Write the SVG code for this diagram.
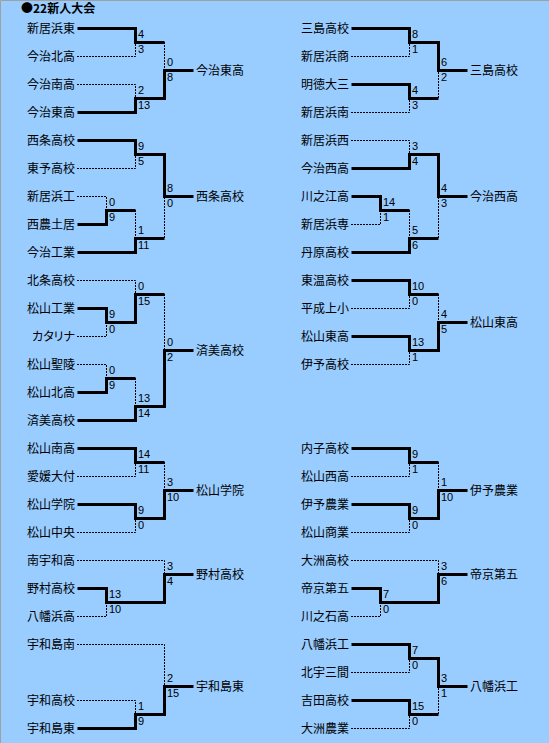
<svg xmlns="http://www.w3.org/2000/svg" width="549" height="743" viewBox="0 0 549 743">
<style>
.bg{fill:#99CCFF}
.w{fill:none;stroke:#000;stroke-width:3;stroke-linejoin:miter;stroke-linecap:butt}
.l{fill:none;stroke:#000;stroke-width:1;stroke-dasharray:2 1}
.t{font-family:"Noto Sans CJK JP","Noto Sans CJK SC",sans-serif;font-size:12px;fill:#000}
.e{text-anchor:end}
.s{font-family:"Liberation Sans",Arial,sans-serif;font-size:11px;fill:#000}
.h{font-family:"Noto Sans CJK JP",sans-serif;font-size:12px;font-weight:bold;fill:#000}
</style>
<rect class="bg" x="0" y="0" width="549" height="743"/>
<path d="M0.5 743V0.5H549" fill="none" stroke="#A0A0A0" stroke-width="1"/>
<text class="h" x="21" y="12.5">●22新人大会</text>

<g id="connectors">
<g transform="translate(0.5 0.5)">
<!-- L1 -->
<path class="w" d="M77 28H135V42H164"/>
<path class="w" d="M77 112H135V98H164V70H193"/>
<!-- L2 -->
<path class="w" d="M77 140H135V154H164V196H193"/>
<path class="w" d="M77 224H106V210H135"/>
<path class="w" d="M77 252H135V238H164"/>
<!-- L3 -->
<path class="w" d="M77 308H106V322H135V294H164"/>
<path class="w" d="M77 392H106V378H135"/>
<path class="w" d="M77 420H135V406H164V350H193"/>
<!-- L4 -->
<path class="w" d="M77 448H135V462H164"/>
<path class="w" d="M77 504H135V518H164V490H193"/>
<!-- L5 -->
<path class="w" d="M77 588H106V602H164V574H193"/>
<!-- L6 -->
<path class="w" d="M77 728H135V714H164V686H193"/>
<!-- R1 -->
<path class="w" d="M351 28H409V42H438V70H467"/>
<path class="w" d="M351 84H409V98H438"/>
<!-- R2 -->
<path class="w" d="M351 168H409V154H438V196H467"/>
<path class="w" d="M351 196H380V210H409"/>
<path class="w" d="M351 252H409V238H438"/>
<!-- R3 -->
<path class="w" d="M351 280H409V294H438"/>
<path class="w" d="M351 336H409V350H438V322H467"/>
<!-- R4 -->
<path class="w" d="M351 448H409V462H438"/>
<path class="w" d="M351 504H409V518H438V490H467"/>
<!-- R5 -->
<path class="w" d="M351 588H380V602H438V574H467"/>
<!-- R6 -->
<path class="w" d="M351 644H409V658H438V686H467"/>
<path class="w" d="M351 700H409V714H438"/>
</g>
<path class="l" d="M77 56.5H135.5V42M77 84.5H135.5V98M164.5 42V70"/>
<path class="l" d="M77 168.5H135.5V154M77 196.5H106.5V210M135.5 210V238M164.5 238V196"/>
<path class="l" d="M77 280.5H135.5V294M77 336.5H106.5V322M77 364.5H106.5V378M135.5 378V406M164.5 294V350"/>
<path class="l" d="M77 476.5H135.5V462M77 532.5H135.5V518M164.5 462V490"/>
<path class="l" d="M77 560.5H164.5V574M77 616.5H106.5V602"/>
<path class="l" d="M77 644.5H164.5V686M77 700.5H135.5V714"/>
<path class="l" d="M351 56.5H409.5V42M351 112.5H409.5V98M438.5 98V70"/>
<path class="l" d="M351 140.5H409.5V154M351 224.5H380.5V210M409.5 210V238M438.5 238V196"/>
<path class="l" d="M351 308.5H409.5V294M351 364.5H409.5V350M438.5 294V322"/>
<path class="l" d="M351 476.5H409.5V462M351 532.5H409.5V518M438.5 462V490"/>
<path class="l" d="M351 560.5H438.5V574M351 616.5H380.5V602"/>
<path class="l" d="M351 672.5H409.5V658M351 728.5H409.5V714M438.5 714V686"/>
</g>

<g id="scores" class="s">
<text x="138" y="38">4</text><text x="138" y="53">3</text>
<text x="138" y="94">2</text><text x="138" y="109">13</text>
<text x="167" y="66">0</text><text x="167" y="81">8</text>

<text x="138" y="150">9</text><text x="138" y="165">5</text>
<text x="109" y="206">0</text><text x="109" y="221">9</text>
<text x="138" y="234">1</text><text x="138" y="249">11</text>
<text x="167" y="192">8</text><text x="167" y="207">0</text>

<text x="109" y="318">9</text><text x="109" y="333">0</text>
<text x="138" y="290">0</text><text x="138" y="305">15</text>
<text x="109" y="374">0</text><text x="109" y="389">9</text>
<text x="138" y="402">13</text><text x="138" y="417">14</text>
<text x="167" y="346">0</text><text x="167" y="361">2</text>

<text x="138" y="458">14</text><text x="138" y="473">11</text>
<text x="138" y="514">9</text><text x="138" y="529">0</text>
<text x="167" y="486">3</text><text x="167" y="501">10</text>

<text x="109" y="598">13</text><text x="109" y="613">10</text>
<text x="167" y="570">3</text><text x="167" y="585">4</text>

<text x="138" y="710">1</text><text x="138" y="725">9</text>
<text x="167" y="682">2</text><text x="167" y="697">15</text>

<text x="412" y="38">8</text><text x="412" y="53">1</text>
<text x="412" y="94">4</text><text x="412" y="109">3</text>
<text x="441" y="66">6</text><text x="441" y="81">2</text>

<text x="412" y="150">3</text><text x="412" y="165">4</text>
<text x="383" y="206">14</text><text x="383" y="221">1</text>
<text x="412" y="234">5</text><text x="412" y="249">6</text>
<text x="441" y="192">4</text><text x="441" y="207">3</text>

<text x="412" y="290">10</text><text x="412" y="305">0</text>
<text x="412" y="346">13</text><text x="412" y="361">1</text>
<text x="441" y="318">4</text><text x="441" y="333">5</text>

<text x="412" y="458">9</text><text x="412" y="473">1</text>
<text x="412" y="514">9</text><text x="412" y="529">0</text>
<text x="441" y="486">1</text><text x="441" y="501">10</text>

<text x="383" y="598">7</text><text x="383" y="613">0</text>
<text x="441" y="570">3</text><text x="441" y="585">6</text>

<text x="412" y="654">7</text><text x="412" y="669">0</text>
<text x="412" y="710">15</text><text x="412" y="725">0</text>
<text x="441" y="682">3</text><text x="441" y="697">1</text>
</g>

<!-- Left column teams -->
<g id="L1-1"><text class="t e" x="75" y="32.5">新居浜東</text></g>
<g id="L1-2"><text class="t e" x="75" y="60.5">今治北高</text></g>
<g id="L1-3"><text class="t e" x="75" y="88.5">今治南高</text></g>
<g id="L1-4"><text class="t e" x="75" y="116.5">今治東高</text></g>
<g id="L1-W"><text class="t" x="196" y="74.5">今治東高</text></g>

<g id="L2-1"><text class="t e" x="75" y="144.5">西条高校</text></g>
<g id="L2-2"><text class="t e" x="75" y="172.5">東予高校</text></g>
<g id="L2-3"><text class="t e" x="75" y="200.5">新居浜工</text></g>
<g id="L2-4"><text class="t e" x="75" y="228.5">西農土居</text></g>
<g id="L2-5"><text class="t e" x="75" y="256.5">今治工業</text></g>
<g id="L2-W"><text class="t" x="196" y="200.5">西条高校</text></g>

<g id="L3-1"><text class="t e" x="75" y="284.5">北条高校</text></g>
<g id="L3-2"><text class="t e" x="75" y="312.5">松山工業</text></g>
<g id="L3-3"><text class="t e" x="75" y="340.5" style="font-feature-settings:'palt'">カタリナ</text></g>
<g id="L3-4"><text class="t e" x="75" y="368.5">松山聖陵</text></g>
<g id="L3-5"><text class="t e" x="75" y="396.5">松山北高</text></g>
<g id="L3-6"><text class="t e" x="75" y="424.5">済美高校</text></g>
<g id="L3-W"><text class="t" x="196" y="354.5">済美高校</text></g>

<g id="L4-1"><text class="t e" x="75" y="452.5">松山南高</text></g>
<g id="L4-2"><text class="t e" x="75" y="480.5">愛媛大付</text></g>
<g id="L4-3"><text class="t e" x="75" y="508.5">松山学院</text></g>
<g id="L4-4"><text class="t e" x="75" y="536.5">松山中央</text></g>
<g id="L4-W"><text class="t" x="196" y="494.5">松山学院</text></g>

<g id="L5-1"><text class="t e" x="75" y="564.5">南宇和高</text></g>
<g id="L5-2"><text class="t e" x="75" y="592.5">野村高校</text></g>
<g id="L5-3"><text class="t e" x="75" y="620.5">八幡浜高</text></g>
<g id="L5-W"><text class="t" x="196" y="578.5">野村高校</text></g>

<g id="L6-1"><text class="t e" x="75" y="648.5">宇和島南</text></g>
<g id="L6-2"><text class="t e" x="75" y="704.5">宇和高校</text></g>
<g id="L6-3"><text class="t e" x="75" y="732.5">宇和島東</text></g>
<g id="L6-W"><text class="t" x="196" y="690.5">宇和島東</text></g>

<!-- Right column teams -->
<g id="R1-1"><text class="t e" x="349" y="32.5">三島高校</text></g>
<g id="R1-2"><text class="t e" x="349" y="60.5">新居浜商</text></g>
<g id="R1-3"><text class="t e" x="349" y="88.5">明徳大三</text></g>
<g id="R1-4"><text class="t e" x="349" y="116.5">新居浜南</text></g>
<g id="R1-W"><text class="t" x="470" y="74.5">三島高校</text></g>

<g id="R2-1"><text class="t e" x="349" y="144.5">新居浜西</text></g>
<g id="R2-2"><text class="t e" x="349" y="172.5">今治西高</text></g>
<g id="R2-3"><text class="t e" x="349" y="200.5">川之江高</text></g>
<g id="R2-4"><text class="t e" x="349" y="228.5">新居浜専</text></g>
<g id="R2-5"><text class="t e" x="349" y="256.5">丹原高校</text></g>
<g id="R2-W"><text class="t" x="470" y="200.5">今治西高</text></g>

<g id="R3-1"><text class="t e" x="349" y="284.5">東温高校</text></g>
<g id="R3-2"><text class="t e" x="349" y="312.5">平成上小</text></g>
<g id="R3-3"><text class="t e" x="349" y="340.5">松山東高</text></g>
<g id="R3-4"><text class="t e" x="349" y="368.5">伊予高校</text></g>
<g id="R3-W"><text class="t" x="470" y="326.5">松山東高</text></g>

<g id="R4-1"><text class="t e" x="349" y="452.5">内子高校</text></g>
<g id="R4-2"><text class="t e" x="349" y="480.5">松山西高</text></g>
<g id="R4-3"><text class="t e" x="349" y="508.5">伊予農業</text></g>
<g id="R4-4"><text class="t e" x="349" y="536.5">松山商業</text></g>
<g id="R4-W"><text class="t" x="470" y="494.5">伊予農業</text></g>

<g id="R5-1"><text class="t e" x="349" y="564.5">大洲高校</text></g>
<g id="R5-2"><text class="t e" x="349" y="592.5">帝京第五</text></g>
<g id="R5-3"><text class="t e" x="349" y="620.5">川之石高</text></g>
<g id="R5-W"><text class="t" x="470" y="578.5">帝京第五</text></g>

<g id="R6-1"><text class="t e" x="349" y="648.5">八幡浜工</text></g>
<g id="R6-2"><text class="t e" x="349" y="676.5">北宇三間</text></g>
<g id="R6-3"><text class="t e" x="349" y="704.5">吉田高校</text></g>
<g id="R6-4"><text class="t e" x="349" y="732.5">大洲農業</text></g>
<g id="R6-W"><text class="t" x="470" y="690.5">八幡浜工</text></g>
</svg>
